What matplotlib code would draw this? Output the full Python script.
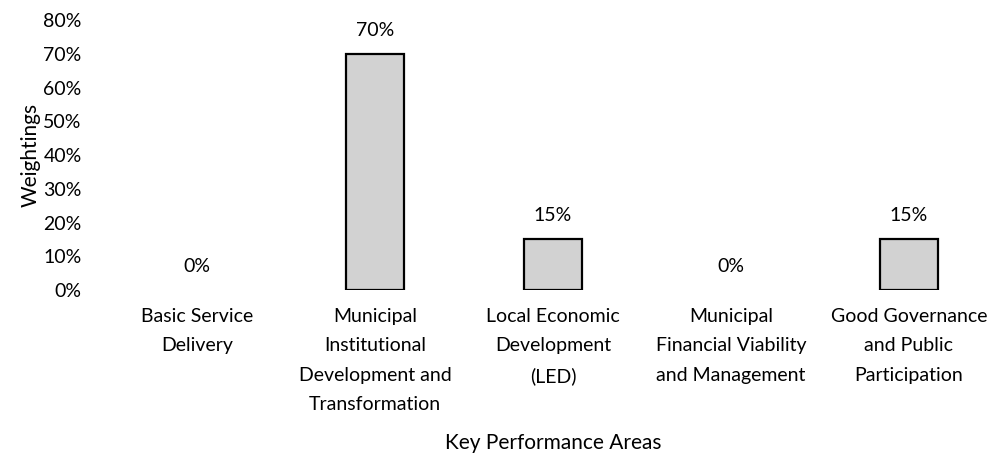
import matplotlib.pyplot as plt
import numpy as np

plt.rcParams['font.family'] = ['Lato', 'DejaVu Sans']

categories = ['Basic Service\nDelivery',
              'Municipal\nInstitutional\nDevelopment and\nTransformation',
              'Local Economic\nDevelopment\n(LED)',
              'Municipal\nFinancial Viability\nand Management',
              'Good Governance\nand Public\nParticipation']
weights = [0, 70, 15, 0, 15]
yticks = [0, 10, 20, 30, 40, 50, 60, 70, 80]

fig = plt.figure(figsize=(10, 4.59), dpi=100)
ax = fig.add_axes([0.108, 0.368, 0.89, 0.588])

x = np.arange(len(categories))
bars = ax.bar(x, weights, width=0.33, color='#d2d2d2', edgecolor='black', linewidth=1.6)
for b, w in zip(bars, weights):
    if w == 0:
        b.set_linewidth(0)
for xi, w in zip(x, weights):
    ax.text(xi, w + 4.5, f'{w}%', ha='center', va='bottom', fontsize=14)

ax.set_xlim(-0.5, len(categories) - 0.5)
ax.set_ylim(0, 80)
ax.set_yticks(yticks)
ax.set_yticklabels([f'{v}%' for v in yticks], fontsize=14)
ax.set_xticks(x)
ax.set_xticklabels(categories, fontsize=14, linespacing=1.88)
ax.tick_params(axis='x', length=0, pad=13)
ax.tick_params(axis='y', length=0, pad=19)
for s in ax.spines.values():
    s.set_visible(False)
ax.set_ylabel('Weightings', fontsize=15, labelpad=2)
ax.set_xlabel('Key Performance Areas', fontsize=15, labelpad=14)

fig.savefig('out.png', dpi=100)
